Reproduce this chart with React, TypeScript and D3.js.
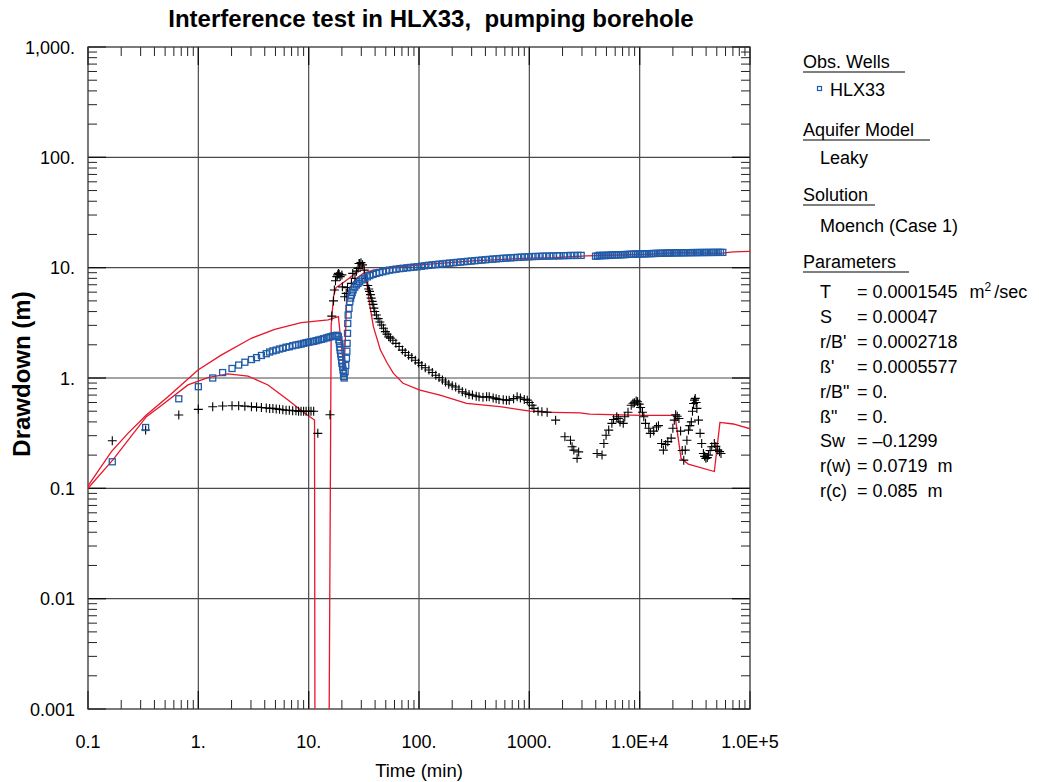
import React from "react";
import * as d3 from "d3";

// ---------- data (time in min, drawdown in m) ----------
const xTickValues = [0.1, 1, 10, 100, 1000, 1e4, 1e5];
const xTickLabels = ["0.1", "1.", "10.", "100.", "1000.", "1.0E+4", "1.0E+5"];
const yTickValues = [1000, 100, 10, 1, 0.1, 0.01, 0.001];
const yTickLabels = ["1,000.", "100.", "10.", "1.", "0.1", "0.01", "0.001"];

// HLX33 observed drawdown (blue squares)
const obsHLX33: [number, number][] = [
  [0.166, 0.174], [0.333, 0.356], [0.665, 0.648], [1.0, 0.834], [1.35, 1.0], [1.66, 1.12], [2.02, 1.22],
  [2.32, 1.31], [2.64, 1.39], [3.03, 1.47], [3.37, 1.53], [3.73, 1.6], [4.13, 1.66], [4.43, 1.72],
  [4.74, 1.76], [5.08, 1.79], [5.44, 1.83], [5.83, 1.86], [6.24, 1.9], [6.68, 1.92], [7.16, 1.96],
  [7.67, 1.99], [8.1, 2.01], [8.53, 2.03], [9.0, 2.06], [9.48, 2.09], [10.0, 2.11], [10.5, 2.13],
  [11.1, 2.15], [11.7, 2.18], [12.3, 2.21], [13.0, 2.24], [13.7, 2.27], [14.5, 2.31], [15.2, 2.34],
  [15.9, 2.37], [16.6, 2.4], [17.4, 2.42], [18.0, 2.44], [18.6, 2.38], [18.8, 2.22], [19.0, 2.06],
  [19.2, 1.9], [19.3, 1.79], [19.5, 1.66], [19.7, 1.56], [19.9, 1.45], [20.0, 1.36], [20.3, 1.26],
  [20.5, 1.18], [20.7, 1.1], [20.8, 1.03], [21.0, 1.0], [21.4, 1.14], [21.7, 1.3], [22.0, 1.51],
  [22.2, 1.75], [22.3, 2.06], [22.5, 2.54], [22.6, 3.12], [22.8, 3.72], [23.2, 4.28], [23.6, 4.91],
  [24.0, 5.3], [24.4, 5.65], [24.8, 5.95], [25.3, 6.28], [26.2, 6.65], [27.1, 6.97], [28.0, 7.2],
  [29.0, 7.45], [30.5, 7.75], [32.2, 8.02], [34.0, 8.25], [35.8, 8.47], [38.3, 8.68], [40.9, 8.87],
  [43.8, 9.03], [46.9, 9.18], [50.3, 9.34], [54, 9.5], [58, 9.6], [62, 9.7], [67, 9.8], [72, 9.88],
  [78, 9.97], [84, 10.05], [90, 10.12], [97, 10.2], [105, 10.3], [113, 10.4], [122, 10.5], [131, 10.58],
  [141, 10.67], [152, 10.75], [164, 10.83], [177, 10.92], [190, 11.0], [205, 11.08], [221, 11.16],
  [238, 11.24], [256, 11.32], [276, 11.4], [297, 11.48], [320, 11.56], [345, 11.64], [372, 11.72],
  [400, 11.8], [431, 11.88], [465, 11.95], [500, 12.02], [540, 12.1], [580, 12.16], [625, 12.22],
  [675, 12.28], [727, 12.34], [783, 12.4], [843, 12.45], [908, 12.5], [980, 12.55], [1055, 12.6],
  [1135, 12.63], [1225, 12.66], [1320, 12.7], [1420, 12.72], [1530, 12.75], [1650, 12.78], [1780, 12.8],
  [1880, 12.82], [2050, 12.84], [2200, 12.87], [2370, 12.9], [2550, 12.9], [2750, 12.92], [2950, 12.92],
  [3980, 12.7], [4150, 12.75], [4300, 12.95], [4470, 12.8], [4650, 12.95], [4850, 12.85], [5050, 13.0],
  [5250, 12.9], [5480, 13.0], [5700, 13.0], [5950, 13.05], [6200, 13.05], [6450, 13.1], [6750, 13.1],
  [7050, 13.12], [7350, 13.15], [7700, 13.18], [8050, 13.2], [8400, 13.22], [8800, 13.25], [9200, 13.28],
  [9650, 13.3], [10100, 13.32], [10600, 13.34], [11100, 13.36], [11600, 13.38], [12200, 13.4],
  [12800, 13.42], [13400, 13.44], [14000, 13.46], [14700, 13.48], [15400, 13.5], [16200, 13.52],
  [17000, 13.54], [17800, 13.56], [18700, 13.58], [19600, 13.6], [20600, 13.62], [21600, 13.63],
  [22700, 13.64], [23800, 13.65], [25000, 13.66], [26200, 13.67], [27500, 13.68], [28900, 13.69],
  [30300, 13.7], [31800, 13.7], [33400, 13.71], [35000, 13.72], [36800, 13.72], [38600, 13.73],
  [40500, 13.73], [42500, 13.74], [44600, 13.74], [46800, 13.75], [49100, 13.75], [51500, 13.75],
  [54000, 13.76], [56700, 13.76],
];

// Derivative of observed drawdown (black crosses)
const obsDerivative: [number, number][] = [
  [0.166, 0.27], [0.333, 0.338], [0.665, 0.462], [1.0, 0.52], [1.35, 0.549], [1.66, 0.557], [2.02, 0.56],
  [2.32, 0.56], [2.64, 0.556], [3.03, 0.55], [3.37, 0.545], [3.73, 0.54], [4.13, 0.535], [4.43, 0.53],
  [4.74, 0.53], [5.08, 0.525], [5.44, 0.52], [5.83, 0.515], [6.24, 0.51], [6.68, 0.51], [7.16, 0.505],
  [7.67, 0.505], [8.1, 0.5], [8.53, 0.5], [9.0, 0.5], [9.48, 0.5], [10.0, 0.5], [10.5, 0.5], [11.1, 0.5],
  [12.1, 0.315], [15.6, 0.465], [16.2, 3.64], [16.8, 5.0], [17.1, 6.27], [17.5, 7.6], [18.0, 8.3],
  [18.3, 8.6], [18.6, 8.87], [18.9, 8.7], [19.3, 8.3], [20.0, 8.6], [20.2, 6.7], [21.2, 5.45],
  [21.9, 5.85], [22.5, 6.6], [24.4, 7.2], [25.1, 8.87], [26.3, 8.0], [27.1, 9.3], [28.0, 9.86],
  [28.6, 10.9], [29.0, 10.9], [29.8, 11.1], [30.8, 10.6], [31.9, 9.5], [33.1, 8.0], [34.3, 6.9],
  [35.0, 6.4], [35.6, 6.1], [36.3, 5.7], [36.9, 5.3], [37.6, 4.95], [38.3, 4.65], [39.0, 4.3],
  [39.7, 4.0], [41.1, 3.72], [42.6, 3.45], [44.2, 3.22], [45.9, 3.02], [47.7, 2.82], [49.5, 2.63],
  [51.3, 2.5], [53.2, 2.36], [55, 2.3], [58, 2.2], [61.7, 2.06], [66, 1.93], [70.7, 1.79], [75, 1.7],
  [80.4, 1.61], [86, 1.53], [92.6, 1.45], [99, 1.37], [106, 1.3], [114, 1.24], [123, 1.18], [132, 1.12],
  [142, 1.06], [152, 1.01], [163, 0.96], [174, 0.92], [186, 0.88], [200, 0.85], [215, 0.83], [230, 0.79],
  [247, 0.75], [265, 0.73], [284, 0.71], [305, 0.7], [330, 0.685], [350, 0.676], [380, 0.67],
  [410, 0.675], [433, 0.676], [470, 0.66], [500, 0.65], [531, 0.64], [580, 0.635], [620, 0.63],
  [657, 0.63], [720, 0.65], [775, 0.676], [830, 0.66], [900, 0.64], [958, 0.63], [1000, 0.6],
  [1060, 0.567], [1100, 0.53], [1200, 0.5], [1300, 0.494], [1450, 0.49], [1730, 0.415], [2100, 0.293],
  [2360, 0.273], [2440, 0.238], [2530, 0.222], [2710, 0.187], [2800, 0.214], [4110, 0.207], [4560, 0.2],
  [4740, 0.255], [4960, 0.303], [5240, 0.337], [5600, 0.388], [5800, 0.42], [6200, 0.445], [6400, 0.43],
  [6640, 0.4], [7100, 0.388], [7330, 0.445], [7840, 0.49], [8380, 0.567], [8700, 0.59], [8960, 0.596],
  [9300, 0.62], [9570, 0.61], [9900, 0.58], [10200, 0.54], [10600, 0.49], [10900, 0.445], [11300, 0.388],
  [12100, 0.35], [12500, 0.315], [13400, 0.33], [14200, 0.36], [14800, 0.37], [15800, 0.255],
  [16400, 0.222], [17200, 0.25], [18000, 0.265], [19300, 0.285], [20000, 0.35], [20600, 0.415],
  [21200, 0.465], [21900, 0.45], [22700, 0.43], [23500, 0.33], [24300, 0.22], [25100, 0.18],
  [25900, 0.222], [26800, 0.273], [27700, 0.337], [28500, 0.37], [29400, 0.4], [30100, 0.5],
  [30800, 0.587], [31400, 0.63], [31900, 0.653], [32500, 0.6], [33000, 0.53], [34100, 0.415],
  [35300, 0.315], [36500, 0.255], [37800, 0.207], [38800, 0.195], [39800, 0.187], [41000, 0.19],
  [42000, 0.2], [43500, 0.22], [45000, 0.238], [47500, 0.255], [49000, 0.24], [51000, 0.222],
  [53000, 0.215], [54600, 0.207],
];

// Model drawdown (red curve)
const modelDrawdown: [number, number][] = [
  [0.1, 0.105], [0.163, 0.215], [0.23, 0.315], [0.338, 0.462], [0.531, 0.676], [0.993, 1.18],
  [1.61, 1.61], [3.02, 2.29], [4.92, 2.76], [8.57, 3.17], [15.0, 3.36], [18.6, 3.6], [20.9, 1.15],
  [21.6, 2.5], [22.1, 5.3], [23.5, 6.5], [25.4, 7.4], [28, 8.2], [31.3, 8.9], [38.5, 9.5], [54, 9.9],
  [102, 10.6], [305, 11.5], [1000, 12.2], [1650, 12.3], [3310, 12.8], [5770, 13.0], [11600, 13.2],
  [23200, 13.7], [53400, 13.5], [70600, 13.9], [110000, 14.1],
];

// Model derivative (red curve)
const modelDerivative: [number, number][] = [
  [0.1, 0.1], [0.168, 0.181], [0.338, 0.446], [0.447, 0.549], [0.806, 0.865], [1.22, 1.01],
  [1.86, 1.09], [2.82, 1.04], [4.28, 0.865], [6.5, 0.632], [9.21, 0.479], [11.3, 0.416],
  [11.5, 0.000001], [14.8, 0.000001], [16.0, 3.0], [16.8, 5.5], [17.7, 6.6], [20.4, 7.26], [25.0, 8.5],
  [31.3, 10.6], [33.6, 7.2], [36.0, 4.42], [38.6, 2.92], [44.7, 1.79], [51.6, 1.36], [58.7, 1.1],
  [71.7, 0.896], [102, 0.778], [155, 0.7], [270, 0.59], [540, 0.55], [1010, 0.5], [1650, 0.489],
  [2880, 0.482], [3530, 0.47], [6640, 0.464], [10400, 0.458], [20900, 0.458], [23700, 0.187],
  [27600, 0.166], [47500, 0.142], [53400, 0.396], [70600, 0.383], [104000, 0.343],
];

const paramLabels = ["T", "S", "r/B'", "ß'", "r/B\"", "ß\"", "Sw", "r(w)", "r(c)"];
const paramValues = ["= 0.0001545", "= 0.00047", "= 0.0002718", "= 0.0005577", "= 0.", "= 0.", "= \u20130.1299", "= 0.0719\u00a0\u00a0m", "= 0.085\u00a0\u00a0m"];

// ---------- layout ----------
const W = 1039;
const H = 782;
const X0 = 88, X1 = 750, Y0 = 47, Y1 = 709;
const FONT = "'Liberation Sans', Arial, Helvetica, sans-serif";
const RED = "#e8142a";
const BLUE = "#1f5ba8";
const GRID = "#4a4a4a";

export default function App() {
  const x = d3.scaleLog().domain([0.1, 1e5]).range([X0, X1]);
  const y = d3.scaleLog().domain([0.001, 1000]).range([Y1, Y0]);
  const line = d3
    .line<[number, number]>()
    .x((d) => x(d[0]))
    .y((d) => y(d[1]));

  const minorX: number[] = [];
  for (let e = -1; e < 5; e++) for (let k = 2; k <= 9; k++) minorX.push(k * Math.pow(10, e));
  const minorY: number[] = [];
  for (let e = -3; e < 3; e++) for (let k = 2; k <= 9; k++) minorY.push(k * Math.pow(10, e));

  const legendX = 803;
  const headers = [
    { text: "Obs. Wells", y: 68, end: 905 },
    { text: "Aquifer Model", y: 136, end: 930 },
    { text: "Solution", y: 201, end: 875 },
    { text: "Parameters", y: 268, end: 909 },
  ];

  return (
    <svg width={W} height={H} style={{ position: "absolute", left: 0, top: 0, background: "#fff" }} fontFamily={FONT}>
      <defs>
        <clipPath id="plotClip">
          <rect x={X0} y={Y0} width={X1 - X0} height={Y1 - Y0} />
        </clipPath>
      </defs>
      <rect x={0} y={0} width={W} height={H} fill="#fff" />

      {/* title */}
      <text x={431} y={27} textAnchor="middle" fontSize={24} fontWeight="bold">
        Interference test in HLX33,{"\u00a0\u00a0"}pumping borehole
      </text>

      {/* grid */}
      {xTickValues.slice(1, -1).map((v) => (
        <line key={"gx" + v} x1={x(v)} x2={x(v)} y1={Y0} y2={Y1} stroke={GRID} strokeWidth={1.2} />
      ))}
      {yTickValues.slice(1, -1).map((v) => (
        <line key={"gy" + v} x1={X0} x2={X1} y1={y(v)} y2={y(v)} stroke={GRID} strokeWidth={1.2} />
      ))}

      {/* minor ticks */}
      {minorX.map((v) => (
        <g key={"mx" + v}>
          <line x1={x(v)} x2={x(v)} y1={Y1} y2={Y1 - 9} stroke="#222" />
          <line x1={x(v)} x2={x(v)} y1={Y0} y2={Y0 + 9} stroke="#222" />
        </g>
      ))}
      {minorY.map((v) => (
        <g key={"my" + v}>
          <line x1={X0} x2={X0 + 9} y1={y(v)} y2={y(v)} stroke="#222" />
          <line x1={X1} x2={X1 - 9} y1={y(v)} y2={y(v)} stroke="#222" />
        </g>
      ))}
      {xTickValues.map((v) => (
        <g key={"Mx" + v}>
          <line x1={x(v)} x2={x(v)} y1={Y1} y2={Y1 - 18} stroke="#111" strokeWidth={1.3} />
          <line x1={x(v)} x2={x(v)} y1={Y0} y2={Y0 + 18} stroke="#111" strokeWidth={1.3} />
        </g>
      ))}
      {yTickValues.map((v) => (
        <g key={"My" + v}>
          <line x1={X0} x2={X0 + 18} y1={y(v)} y2={y(v)} stroke="#111" strokeWidth={1.3} />
          <line x1={X1} x2={X1 - 18} y1={y(v)} y2={y(v)} stroke="#111" strokeWidth={1.3} />
        </g>
      ))}

      {/* frame */}
      <rect x={X0} y={Y0} width={X1 - X0} height={Y1 - Y0} fill="none" stroke="#333" strokeWidth={1.3} />

      {/* tick labels */}
      {xTickValues.map((v, i) => (
        <text key={"xl" + v} x={x(v)} y={748} textAnchor="middle" fontSize={18}>
          {xTickLabels[i]}
        </text>
      ))}
      {yTickValues.map((v, i) => (
        <text key={"yl" + v} x={75} y={y(v) + 6.5} textAnchor="end" fontSize={18}>
          {yTickLabels[i]}
        </text>
      ))}

      {/* axis titles */}
      <text x={419} y={777} textAnchor="middle" fontSize={18.5}>
        Time (min)
      </text>
      <text transform={`translate(30,${374}) rotate(-90)`} textAnchor="middle" fontSize={24} fontWeight="bold">
        Drawdown (m)
      </text>

      {/* data */}
      <g clipPath="url(#plotClip)">
        <path d={line(modelDrawdown) || ""} fill="none" stroke={RED} strokeWidth={1.3} />
        <path d={line(modelDerivative) || ""} fill="none" stroke={RED} strokeWidth={1.3} />
        {obsDerivative.map((d, i) => {
          const cx = x(d[0]);
          const cy = y(d[1]);
          return (
            <path key={"c" + i} d={`M${cx - 4.5},${cy}H${cx + 4.5}M${cx},${cy - 4.5}V${cy + 4.5}`} stroke="#000" strokeWidth={1.1} fill="none" />
          );
        })}
        {obsHLX33.map((d, i) => (
          <rect key={"s" + i} x={x(d[0]) - 3} y={y(d[1]) - 3} width={6} height={6} fill="none" stroke={BLUE} strokeWidth={1.3} />
        ))}
      </g>

      {/* legend */}
      {headers.map((h) => (
        <g key={h.text}>
          <text x={legendX} y={h.y} fontSize={18}>
            {h.text}
          </text>
          <line x1={legendX} x2={h.end} y1={h.y + 4} y2={h.y + 4} stroke="#000" strokeWidth={1.2} />
        </g>
      ))}
      <rect x={817.5} y={86.5} width={4} height={4} fill="none" stroke={BLUE} strokeWidth={1.2} />
      <text x={830} y={96} fontSize={18}>HLX33</text>
      <text x={820} y={164} fontSize={18}>Leaky</text>
      <text x={820} y={232} fontSize={18}>Moench (Case 1)</text>
      {paramLabels.map((p, i) => (
        <g key={"p" + i}>
          <text x={820} y={298 + i * 24.9} fontSize={18}>
            {p}
          </text>
          <text x={857} y={298 + i * 24.9} fontSize={18}>
            {paramValues[i]}
            {i === 0 ? (
              <>
                <tspan dx={12}>m</tspan>
                <tspan dy={-7} fontSize={12}>2</tspan>
                <tspan dy={7} dx={3}>/sec</tspan>
              </>
            ) : null}
          </text>
        </g>
      ))}
    </svg>
  );
}
